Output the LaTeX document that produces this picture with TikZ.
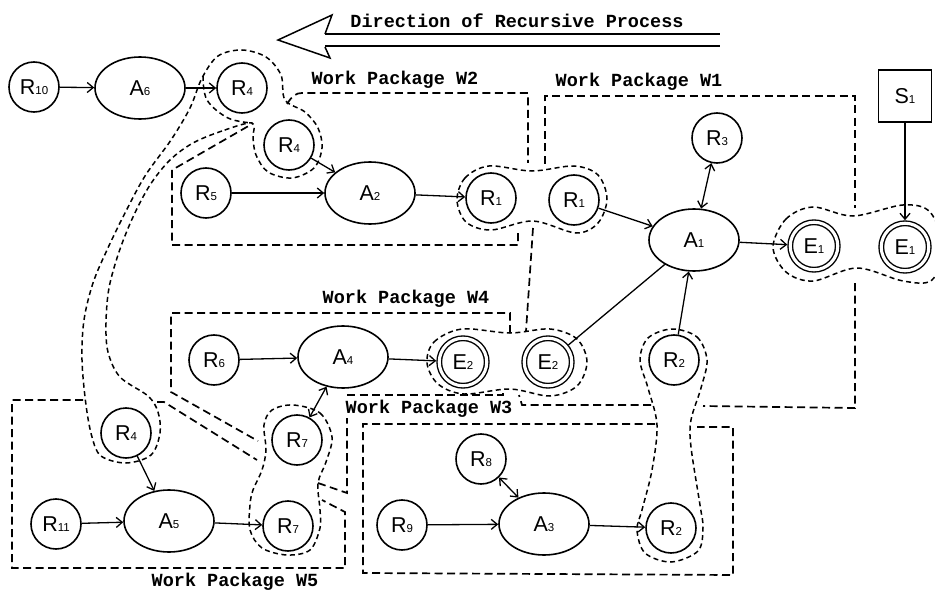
\documentclass[tikz,border=0pt]{standalone}
\usepackage{fontspec}
\setmainfont{Liberation Sans}
\newfontfamily\plotmono{Liberation Mono}
\usetikzlibrary{shapes.geometric,arrows.meta}

% letter with a small index digit sitting on the baseline
\newcommand\rlab[2]{#1{\fontsize{11.5}{11.5}\selectfont #2}}

\begin{document}
\begin{tikzpicture}[x=1pt,y=-1pt,
  every node/.style={font=\fontsize{21.5}{21.5}\selectfont},
  res/.style={circle,draw,line width=1.6pt,minimum size=50pt,inner sep=0pt},
  act/.style={ellipse,draw,line width=1.6pt,minimum width=90pt,minimum height=62pt,inner sep=0pt},
  evt/.style={circle,draw,line width=1.4pt,double,double distance=3.1pt,minimum size=47.5pt,inner sep=0pt,outer sep=3pt},
  src/.style={rectangle,draw,line width=1.6pt,minimum width=53pt,minimum height=52pt,inner sep=0pt},
  tip/.tip={Straight Barb[length=6pt,width=10pt]},
  flow/.style={line width=1.3pt,-tip},
  twoway/.style={line width=1.3pt,tip-tip},
  link/.style={line width=1.3pt},
  wp/.style={line width=1.7pt,dash pattern=on 8pt off 4.5pt},
  bub/.style={line width=1.5pt,dash pattern=on 5pt off 3.5pt},
  wplabel/.style={font=\plotmono\bfseries\fontsize{18.5}{18.5}\selectfont,anchor=base,inner sep=0pt}
]
\fill[white] (0,0) rectangle (935,591);
\useasboundingbox (0,0) rectangle (935,591);

% ---- direction arrow and caption
\node[wplabel] (title) at (517,28) {Direction of Recursive Process};
\draw[line width=1.5pt,line join=miter] (325,34) -- (332,15) -- (278,40) -- (330,58) -- (325,47);
\draw[line width=2pt] (325,34.5) -- (720,34.5);
\draw[line width=2pt] (325,46.5) -- (720,46.5);

% ---- resources, activities, events, source
\node[res] (r10) at (34,87) {\rlab{R}{10}};
\node[act] (a6) at (140,88) {\rlab{A}{6}};
\node[res] (r4a) at (242,88) {\rlab{R}{4}};
\node[res] (r4b) at (289,145) {\rlab{R}{4}};
\node[res] (r5) at (206,193) {\rlab{R}{5}};
\node[act] (a2) at (370,193) {\rlab{A}{2}};
\node[res] (r1a) at (491,198) {\rlab{R}{1}};
\node[res] (r1b) at (574,200) {\rlab{R}{1}};
\node[act] (a1) at (694,240) {\rlab{A}{1}};
\node[res] (r3) at (717,138) {\rlab{R}{3}};
\node[evt] (e1a) at (814,246) {\rlab{E}{1}};
\node[evt] (e1b) at (905,247) {\rlab{E}{1}};
\node[src] (s1) at (905,96) {\rlab{S}{1}};
\node[res] (r2a) at (674,360) {\rlab{R}{2}};
\node[res] (r6) at (214,360) {\rlab{R}{6}};
\node[act] (a4) at (343,357) {\rlab{A}{4}};
\node[evt] (e2a) at (463,362) {\rlab{E}{2}};
\node[evt] (e2b) at (548,362) {\rlab{E}{2}};
\node[res] (r7a) at (297,440) {\rlab{R}{7}};
\node[res] (r7b) at (288,526) {\rlab{R}{7}};
\node[res] (r4c) at (126,433) {\rlab{R}{4}};
\node[res] (r11) at (56,524) {\rlab{R}{11}};
\node[act] (a5) at (169,521) {\rlab{A}{5}};
\node[res] (r8) at (481,459) {\rlab{R}{8}};
\node[res] (r9) at (402,525) {\rlab{R}{9}};
\node[act] (a3) at (544,524) {\rlab{A}{3}};
\node[res] (r2b) at (671,528) {\rlab{R}{2}};

% ---- connectors
\draw[flow] (r10) -- (a6);
\draw[flow] (a6) -- (r4a);
\draw[flow] (r4b) -- (a2);
\draw[flow] (r5) -- (a2);
\draw[flow] (a2) -- (r1a);
\draw[flow] (r1b) -- (a1);
\draw[twoway] (r3) -- (a1);
\draw[flow] (a1) -- (e1a);
\draw[flow] (s1) -- (e1b);
\draw[link] (e2b) -- (a1);
\draw[flow] (r2a) -- (a1);
\draw[flow] (r6) -- (a4);
\draw[flow] (a4) -- (e2a);
\draw[twoway] (a4) -- (r7a);
\draw[flow] (r4c) -- (a5);
\draw[flow] (r11) -- (a5);
\draw[flow] (a5) -- (r7b);
\draw[twoway] (r8) -- (a3);
\draw[flow] (r9) -- (a3);
\draw[flow] (a3) -- (r2b);

% ---- identity bubbles around repeated items
% R4 (three occurrences joined by a band)
\draw[bub] plot[smooth cycle,tension=0.55] coordinates {
  (252,123) (222,131) (193,143) (170,160) (150,185) (133,217) (119,252)
  (109,288) (106,323) (108,352) (120,377) (148,396) (158,412)
  (160,433) (151,455) (126,463) (101,456) (92,437) (86,405) (82,360)
  (84,320) (93,283) (107,250) (124,215) (145,176) (171,140) (190,108)
  (202,78) (218,56) (242,50) (266,57) (281,75) (285,100)
  (305,112) (318,128) (322,148) (314,168) (292,178) (268,172) (256,155) (253,138)};
\draw[bub] plot[smooth,tension=0.6] coordinates {(203,76) (207,100) (228,118) (252,123)};
% R1
\draw[bub] plot[smooth cycle,tension=0.55] coordinates {
  (457,200) (465,178) (489,166) (532,171) (574,166) (598,175) (607,199)
  (598,223) (576,233) (533,221) (491,230) (466,222)};
% E1
\draw[bub] plot[smooth cycle,tension=0.55] coordinates {
  (773,247) (786,219) (813,207) (853,216) (903,205) (930,212) (943,247)
  (932,280) (903,281) (857,268) (813,281) (786,272)};
% E2
\draw[bub] plot[smooth cycle,tension=0.55] coordinates {
  (427,363) (434,342) (462,329) (510,333) (550,329) (577,339) (587,362)
  (577,386) (550,396) (510,389) (464,394) (438,384)};
% R2
\draw[bub] plot[smooth cycle,tension=0.55] coordinates {
  (672,329) (697,337) (707,360) (701,388) (691,420) (691,447) (700,505)
  (703,528) (698,551) (671,562) (645,553) (637,530) (642,510) (652,470)
  (657,425) (648,388) (640,360) (648,338)};
% R7
\draw[bub] plot[smooth cycle,tension=0.55] coordinates {
  (293,405) (320,413) (332,437) (326,462) (318,483) (320,510) (320,528)
  (310,550) (287,555) (262,548) (250,530) (250,505) (253,490) (262,470)
  (266,450) (264,425) (272,410)};

% ---- work package boundaries
% W2
\draw[wp] (287,104) .. controls (292,96) and (296,93) .. (302,93) -- (528,93) -- (528,163);
\draw[wp] (518,233) -- (518,245) -- (172,245) -- (172,170) -- (252,124);
% W1
\draw[wp] (545,164) -- (545,96) -- (855,96) -- (855,208);
\draw[wp] (855,283) -- (855,408) -- (703,406);
\draw[wp] (651,405) -- (522,405) -- (519,395);
\draw[wp] (533,228) -- (526,331);
% W4
\draw[wp] (510,333) -- (510,313) -- (171,313) -- (171,392) -- (258,441);
\draw[wp] (318,483) -- (347,493) -- (347,418);
\draw[wp] (347,395) -- (503,395) -- (503,389);
% W5
\draw[wp] (83,400) -- (12,400) -- (12,568) -- (345,568) -- (345,512) -- (322,500);
\draw[wp] (157,402) -- (164,402) -- (257,460);
% W3
\draw[wp] (655,424) -- (363,424) -- (363,573) -- (733,575) -- (733,427) -- (697,427);

% ---- package captions
\node[wplabel] (lw2) at (395,85) {Work Package W2};
\node[wplabel] (lw1) at (639,87) {Work Package W1};
\node[wplabel] (lw4) at (406,303) {Work Package W4};
\node[wplabel] (lw3) at (429,413) {Work Package W3};
\node[wplabel] (lw5) at (235,586) {Work Package W5};
\end{tikzpicture}
\end{document}
